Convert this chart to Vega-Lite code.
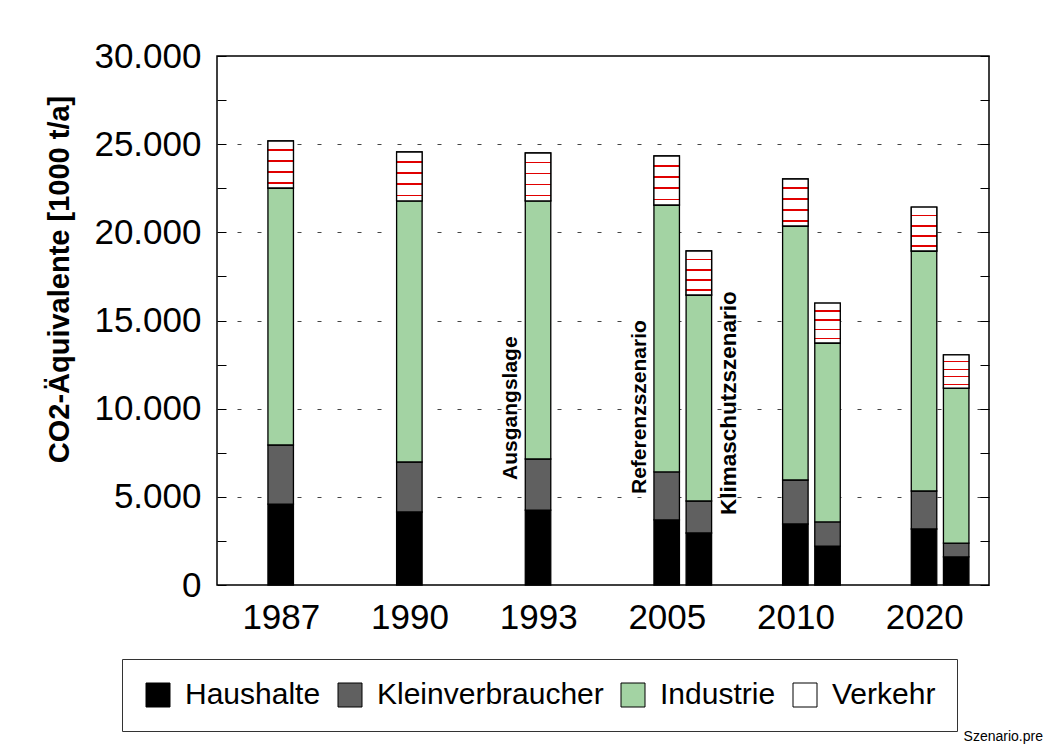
{
  "$schema": "https://vega.github.io/schema/vega-lite/v6.json",
  "width": 772,
  "height": 529,
  "autosize": {"type": "none"},
  "padding": {"left": 217, "top": 56, "right": 61, "bottom": 168},
  "background": "white",
  "config": {
    "font": "Liberation Sans",
    "view": {"stroke": "black", "strokeWidth": 1.5},
    "axis": {"labelFont": "Liberation Sans", "titleFont": "Liberation Sans"}
  },
  "title": {
    "text": "Szenario.pre",
    "orient": "bottom",
    "anchor": "end",
    "frame": "group",
    "fontSize": 14,
    "fontWeight": "normal",
    "font": "Liberation Sans",
    "color": "black",
    "dx": 54,
    "offset": -2
  },
  "datasets": {
    "bars": [
      {"jahr": "1987", "szenario": "Ausgangslage", "sektor": "Haushalte", "wert": 4590},
      {"jahr": "1987", "szenario": "Ausgangslage", "sektor": "Kleinverbraucher", "wert": 3350},
      {"jahr": "1987", "szenario": "Ausgangslage", "sektor": "Industrie", "wert": 14575},
      {"jahr": "1987", "szenario": "Ausgangslage", "sektor": "Verkehr", "wert": 2665},
      {"jahr": "1990", "szenario": "Ausgangslage", "sektor": "Haushalte", "wert": 4140},
      {"jahr": "1990", "szenario": "Ausgangslage", "sektor": "Kleinverbraucher", "wert": 2835},
      {"jahr": "1990", "szenario": "Ausgangslage", "sektor": "Industrie", "wert": 14805},
      {"jahr": "1990", "szenario": "Ausgangslage", "sektor": "Verkehr", "wert": 2775},
      {"jahr": "1993", "szenario": "Ausgangslage", "sektor": "Haushalte", "wert": 4250},
      {"jahr": "1993", "szenario": "Ausgangslage", "sektor": "Kleinverbraucher", "wert": 2895},
      {"jahr": "1993", "szenario": "Ausgangslage", "sektor": "Industrie", "wert": 14635},
      {"jahr": "1993", "szenario": "Ausgangslage", "sektor": "Verkehr", "wert": 2720},
      {"jahr": "2005", "szenario": "Referenz", "sektor": "Haushalte", "wert": 3690},
      {"jahr": "2005", "szenario": "Referenz", "sektor": "Kleinverbraucher", "wert": 2720},
      {"jahr": "2005", "szenario": "Referenz", "sektor": "Industrie", "wert": 15140},
      {"jahr": "2005", "szenario": "Referenz", "sektor": "Verkehr", "wert": 2780},
      {"jahr": "2005", "szenario": "Klimaschutz", "sektor": "Haushalte", "wert": 2950},
      {"jahr": "2005", "szenario": "Klimaschutz", "sektor": "Kleinverbraucher", "wert": 1815},
      {"jahr": "2005", "szenario": "Klimaschutz", "sektor": "Industrie", "wert": 11680},
      {"jahr": "2005", "szenario": "Klimaschutz", "sektor": "Verkehr", "wert": 2495},
      {"jahr": "2010", "szenario": "Referenz", "sektor": "Haushalte", "wert": 3460},
      {"jahr": "2010", "szenario": "Referenz", "sektor": "Kleinverbraucher", "wert": 2495},
      {"jahr": "2010", "szenario": "Referenz", "sektor": "Industrie", "wert": 14405},
      {"jahr": "2010", "szenario": "Referenz", "sektor": "Verkehr", "wert": 2665},
      {"jahr": "2010", "szenario": "Klimaschutz", "sektor": "Haushalte", "wert": 2210},
      {"jahr": "2010", "szenario": "Klimaschutz", "sektor": "Kleinverbraucher", "wert": 1365},
      {"jahr": "2010", "szenario": "Klimaschutz", "sektor": "Industrie", "wert": 10150},
      {"jahr": "2010", "szenario": "Klimaschutz", "sektor": "Verkehr", "wert": 2265},
      {"jahr": "2020", "szenario": "Referenz", "sektor": "Haushalte", "wert": 3175},
      {"jahr": "2020", "szenario": "Referenz", "sektor": "Kleinverbraucher", "wert": 2155},
      {"jahr": "2020", "szenario": "Referenz", "sektor": "Industrie", "wert": 13610},
      {"jahr": "2020", "szenario": "Referenz", "sektor": "Verkehr", "wert": 2495},
      {"jahr": "2020", "szenario": "Klimaschutz", "sektor": "Haushalte", "wert": 1590},
      {"jahr": "2020", "szenario": "Klimaschutz", "sektor": "Kleinverbraucher", "wert": 790},
      {"jahr": "2020", "szenario": "Klimaschutz", "sektor": "Industrie", "wert": 8790},
      {"jahr": "2020", "szenario": "Klimaschutz", "sektor": "Verkehr", "wert": 1875}
    ],
    "notesLeft": [
      {"jahr": "1993", "szenario": "Ausgangslage", "label": "Ausgangslage", "pos": 5960},
      {"jahr": "2005", "szenario": "Referenz", "label": "Referenzszenario", "pos": 5160}
    ],
    "notesRight": [
      {"jahr": "2005", "szenario": "Klimaschutz", "label": "Klimaschutzszenario", "pos": 3970}
    ]
  },
  "resolve": {"axis": {"y": "independent"}},
  "layer": [
    {
      "data": {"name": "bars"},
      "transform": [
        {"calculate": "datum.szenario === 'Klimaschutz' ? 'b' : 'a'", "as": "slot"},
        {"calculate": "indexof(['Haushalte','Kleinverbraucher','Industrie','Verkehr'], datum.sektor)", "as": "rang"},
        {"stack": "wert", "groupby": ["jahr", "slot"], "sort": [{"field": "rang", "order": "ascending"}], "as": ["y0", "y1"]}
      ],
      "layer": [
        {
          "mark": {"type": "bar", "width": 25.5, "stroke": "black", "strokeWidth": 1.3, "opacity": 1},
          "encoding": {
            "x": {
              "field": "jahr",
              "type": "nominal",
              "scale": {"domain": ["1987", "1990", "1993", "2005", "2010", "2020"], "paddingInner": 0, "paddingOuter": 0},
              "axis": {
                "title": null,
                "labelAngle": 0,
                "labelFontSize": 35,
                "labelColor": "black",
                "labelPadding": 15,
                "ticks": false,
                "domain": false
              }
            },
            "xOffset": {
              "field": "slot",
              "type": "nominal",
              "scale": {"domain": ["a", "b"], "paddingInner": 0, "paddingOuter": 1.043, "align": 0.74}
            },
            "y": {
              "field": "y1",
              "type": "quantitative",
              "scale": {"domain": [0, 30000], "nice": false},
              "axis": {
                "title": "CO2-Äquivalente [1000 t/a]",
                "titleFontSize": 29,
                "titleFontWeight": "bold",
                "titleColor": "black",
                "titleAngle": 270,
                "titleX": -149,
                "titleY": 223,
                "titleAlign": "center",
                "titleBaseline": "alphabetic",
                "values": [0, 2500, 5000, 7500, 10000, 12500, 15000, 17500, 20000, 22500, 25000, 27500, 30000],
                "labelExpr": "datum.value % 5000 === 0 ? replace(format(datum.value, ','), ',', '.') : ''",
                "labelFontSize": 35,
                "labelColor": "black",
                "labelPadding": 25,
                "ticks": true,
                "tickColor": "black",
                "tickWidth": 1,
                "tickSize": -9,
                "domain": false,
                "grid": true,
                "gridColor": "#444444",
                "gridDash": [4, 16],
                "gridWidth": 1,
                "gridOpacity": {"condition": {"test": "datum.value % 5000 === 0 && datum.value > 0 && datum.value < 30000", "value": 1}, "value": 0}
              }
            },
            "y2": {"field": "y0"},
            "color": {
              "field": "sektor",
              "type": "nominal",
              "scale": {
                "domain": ["Haushalte", "Kleinverbraucher", "Industrie", "Verkehr"],
                "range": ["#000000", "#606060", "#a3d3a3", "#ffffff"]
              },
              "legend": {
                "title": null,
                "orient": "none",
                "legendX": -95,
                "legendY": 603,
                "direction": "horizontal",
                "columns": 4,
                "symbolType": "square",
                "symbolSize": 576,
                "symbolStrokeColor": "black",
                "symbolStrokeWidth": 1,
                "symbolOpacity": 1,
                "labelFontSize": 30,
                "labelLimit": 0,
                "labelColor": "black",
                "labelFont": "Liberation Sans",
                "labelOffset": 12,
                "columnPadding": 14,
                "padding": 21,
                "strokeColor": "#333333",
                "fillColor": "white",
                "cornerRadius": 0
              }
            }
          }
        },
        {
          "transform": [{"filter": "datum.sektor === 'Verkehr'"}],
          "mark": {
            "type": "bar",
            "width": 25.5,
            "stroke": "black",
            "strokeWidth": 1.3,
            "opacity": 1,
            "fill": {
              "gradient": "linear",
              "x1": 0, "y1": 0, "x2": 0, "y2": 1,
              "stops": [
                {"offset": 0, "color": "white"},
                {"offset": 0.18, "color": "white"},
                {"offset": 0.18, "color": "#e00000"},
                {"offset": 0.215, "color": "#e00000"},
                {"offset": 0.215, "color": "white"},
                {"offset": 0.41, "color": "white"},
                {"offset": 0.41, "color": "#e00000"},
                {"offset": 0.445, "color": "#e00000"},
                {"offset": 0.445, "color": "white"},
                {"offset": 0.64, "color": "white"},
                {"offset": 0.64, "color": "#e00000"},
                {"offset": 0.675, "color": "#e00000"},
                {"offset": 0.675, "color": "white"},
                {"offset": 0.87, "color": "white"},
                {"offset": 0.87, "color": "#e00000"},
                {"offset": 0.905, "color": "#e00000"},
                {"offset": 0.905, "color": "white"},
                {"offset": 1, "color": "white"}
              ]
            }
          },
          "encoding": {
            "x": {"field": "jahr", "type": "nominal"},
            "xOffset": {"field": "slot", "type": "nominal"},
            "y": {"field": "y1", "type": "quantitative"},
            "y2": {"field": "y0"}
          }
        }
      ]
    },
    {
      "data": {"name": "notesLeft"},
      "transform": [
        {"calculate": "datum.szenario === 'Klimaschutz' ? 'b' : 'a'", "as": "slot"}
      ],
      "mark": {"type": "text", "angle": 270, "align": "left", "baseline": "middle", "dy": -27, "fontSize": 21, "fontWeight": "bold", "color": "black", "font": "Liberation Sans"},
      "encoding": {
        "x": {"field": "jahr", "type": "nominal"},
        "xOffset": {"field": "slot", "type": "nominal"},
        "y": {"field": "pos", "type": "quantitative", "axis": null},
        "text": {"field": "label"}
      }
    },
    {
      "data": {"name": "notesRight"},
      "transform": [
        {"calculate": "datum.szenario === 'Klimaschutz' ? 'b' : 'a'", "as": "slot"}
      ],
      "mark": {"type": "text", "angle": 270, "align": "left", "baseline": "middle", "dy": 30, "fontSize": 22.5, "fontWeight": "bold", "color": "black", "font": "Liberation Sans"},
      "encoding": {
        "x": {"field": "jahr", "type": "nominal"},
        "xOffset": {"field": "slot", "type": "nominal"},
        "y": {
          "field": "pos",
          "type": "quantitative",
          "axis": {
            "orient": "right",
            "title": null,
            "labels": false,
            "domain": false,
            "grid": false,
            "values": [0, 2500, 5000, 7500, 10000, 12500, 15000, 17500, 20000, 22500, 25000, 27500, 30000],
            "ticks": true,
            "tickColor": "black",
            "tickWidth": 1,
            "tickSize": -9
          }
        },
        "text": {"field": "label"}
      }
    }
  ]
}
